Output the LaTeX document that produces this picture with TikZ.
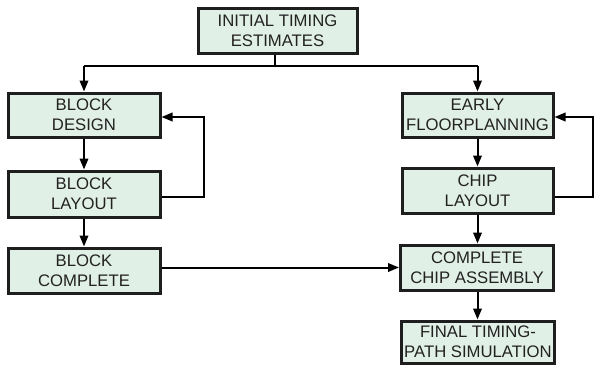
\documentclass[tikz,border=0pt]{standalone}
\usepackage{fontspec}
\setmainfont{Liberation Sans}
\usetikzlibrary{arrows.meta,calc}
\definecolor{boxfill}{HTML}{E1F0E6}
\definecolor{boxline}{HTML}{1E1E1E}
\definecolor{txt}{HTML}{222222}
\tikzset{
  stepbox/.style={draw=boxline, line width=3pt, fill=boxfill, rectangle,
    inner sep=0pt, align=center, text=txt,
    font=\fontsize{16.7}{20}\selectfont},
  arr/.style={draw=black, line width=2pt, -{Triangle[length=11pt,width=8.5pt]}},
  ln/.style={draw=black, line width=2pt}
}
\begin{document}
\begin{tikzpicture}[x=1pt,y=-1pt]
\useasboundingbox (0,0) rectangle (596,365);
\node[stepbox, minimum width=159pt, minimum height=45pt] (ite) at (277.5,30.5) {INITIAL TIMING\\ESTIMATES};
\node[stepbox, minimum width=152pt, minimum height=44pt] (bd) at (84,115) {BLOCK\\DESIGN};
\node[stepbox, minimum width=152pt, minimum height=46pt] (bl) at (84,194) {BLOCK\\LAYOUT};
\node[stepbox, minimum width=152pt, minimum height=45pt] (bc) at (84,270.5) {BLOCK\\COMPLETE};
\node[stepbox, minimum width=151pt, minimum height=44pt] (efp) at (477.5,115) {EARLY\\FLOORPLANNING};
\node[stepbox, minimum width=151pt, minimum height=45pt] (cl) at (477.5,190.5) {CHIP\\LAYOUT};
\node[stepbox, minimum width=153pt, minimum height=45pt] (cca) at (477,267.5) {COMPLETE\\CHIP ASSEMBLY};
\node[stepbox, minimum width=153pt, minimum height=42pt] (fin) at (478,342) {FINAL TIMING-\\PATH SIMULATION};
\coordinate (split) at (275,66);
\coordinate (sl) at (84,66);
\coordinate (sr) at (477.5,66);
\draw[ln] (ite.south -| split) -- (split);
\draw[ln] (sl) -- (sr);
\draw[arr] (sl) -- (bd.north);
\draw[arr] (sr) -- (efp.north);
\draw[arr] (bd.south) -- (bl.north);
\draw[arr] (bl.south) -- (bc.north);
\draw[arr] (efp.south) -- (cl.north);
\draw[arr] (cl.south) -- (cl.south |- cca.north);
\draw[arr] (cl.south |- cca.south) -- (cl.south |- fin.north);
\coordinate (lf1) at (204,197);
\coordinate (lf2) at (204,117);
\draw[arr] (bl.east |- lf1) -- (lf1) -- (lf2) -- (bd.east |- lf2);
\coordinate (rf1) at (593,197);
\coordinate (rf2) at (593,117);
\draw[arr] (cl.east |- rf1) -- (rf1) -- (rf2) -- (efp.east |- rf2);
\draw[arr] (bc.east |- cca.west) -- (cca.west);
\end{tikzpicture}
\end{document}
